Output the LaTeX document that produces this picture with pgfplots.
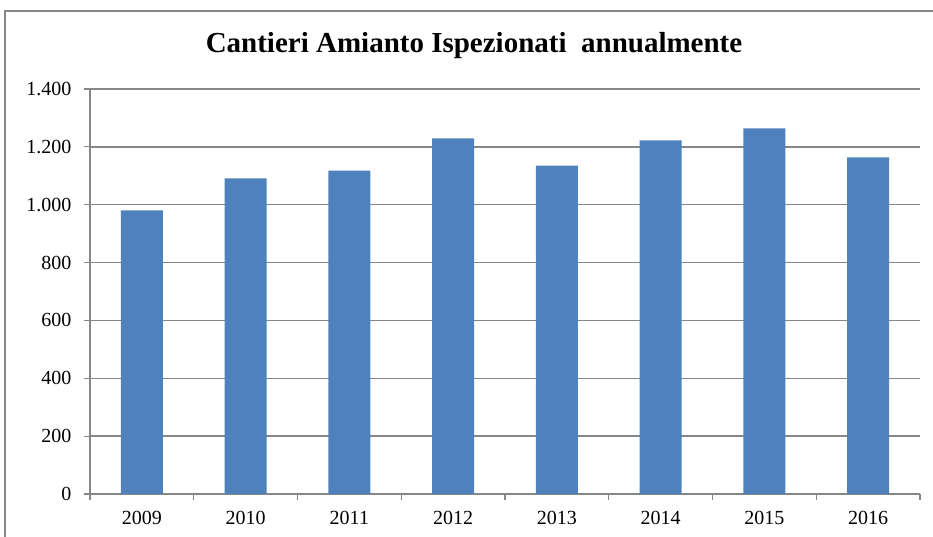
\documentclass[border=0pt]{standalone}
\usepackage{fontspec}
\setmainfont{Liberation Serif}
\usepackage{pgfplots}
\pgfplotsset{compat=1.18}
\definecolor{barblue}{HTML}{4F81BD}
\definecolor{gridgray}{HTML}{868686}
\begin{document}
\begin{tikzpicture}[x=1pt,y=1pt]
\useasboundingbox (0,0) rectangle (933,537);
\draw[gridgray, line width=1.5pt] (5,0) -- (5,526) -- (933,526);
\node[font=\fontsize{29}{33}\selectfont\bfseries] at (474,491) {Cantieri Amianto Ispezionati\ \ annualmente};
\begin{axis}[
  at={(90pt,43pt)}, anchor=south west,
  scale only axis, width=830pt, height=405pt,
  ybar, bar width=42pt,
  xmin=-0.5, xmax=7.5,
  ymin=0, ymax=1400, ytick distance=200,
  xtick={0,...,7},
  xticklabels={2009,2010,2011,2012,2013,2014,2015,2016},
  minor xtick={-0.5,0.5,...,7.5},
  major x tick style={draw=none},
  minor tick length=6pt,
  major tick length=6pt,
  tick align=outside,
  axis x line*=bottom, axis y line*=left,
  axis line style={gridgray, line width=1.5pt, -},
  tick style={gridgray, line width=1.2pt},
  ymajorgrids, grid style={gridgray, line width=1.5pt},
  /pgf/number format/assume math mode=true,
  /pgf/number format/1000 sep={.},
  ticklabel style={font=\fontsize{20}{23}\selectfont},
  yticklabel style={xshift=-9pt},
  xticklabel style={yshift=-8pt},
]
\addplot[fill=barblue, draw=none] coordinates {
  (0,980) (1,1091) (2,1118) (3,1229) (4,1135) (5,1222) (6,1264) (7,1164)
};
\end{axis}
\end{tikzpicture}
\end{document}
